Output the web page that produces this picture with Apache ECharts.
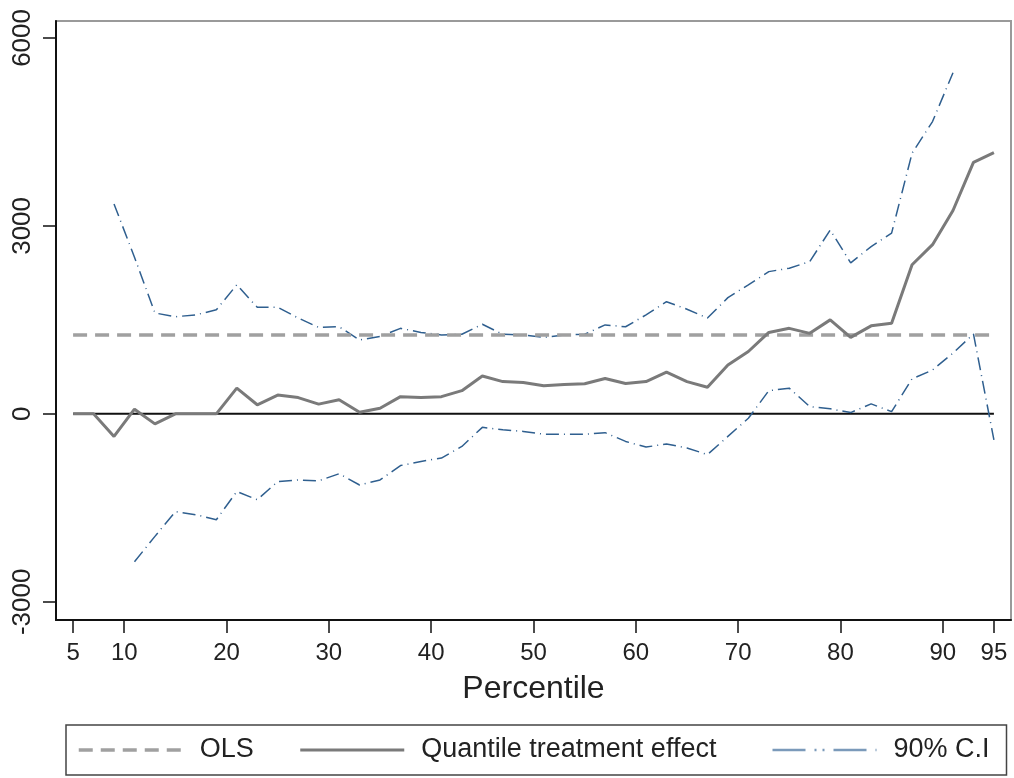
<!DOCTYPE html>
<html>
<head>
<meta charset="utf-8">
<title>Quantile treatment effect</title>
<script src="https://cdn.jsdelivr.net/npm/echarts@6/dist/echarts.min.js"></script>
<style>
  html, body { margin: 0; padding: 0; background: #fff; }
  #chart { width: 1014px; height: 778px; }
</style>
</head>
<body>
<div id="chart"></div>
<script>
// Percentiles 5, 7, ..., 95
const percentiles = [5, 7, 9, 11, 13, 15, 17, 19, 21, 23, 25, 27, 29, 31, 33, 35, 37, 39, 41, 43, 45, 47,
    49, 51, 53, 55, 57, 59, 61, 63, 65, 67, 69, 71, 73, 75, 77, 79, 81, 83, 85, 87, 89, 91, 93, 95];

const qte = [0, 0, -360, 75, -160, 0, 0, 0, 410, 145, 300, 260, 155, 225, 25, 90, 275, 260, 275, 370, 605, 515,
    500, 450, 470, 480, 565, 485, 515, 665, 515, 425, 780, 995, 1300, 1365, 1285, 1500, 1220, 1405, 1445, 2380, 2700, 3245, 4015, 4170];

const ciUpper = [null, null, 3350, 2500, 1610, 1550, 1580, 1660, 2060, 1700, 1700, 1530, 1380, 1390, 1180, 1235, 1365, 1300, 1260, 1270, 1430, 1270,
    1260, 1220, 1260, 1270, 1420, 1390, 1580, 1790, 1670, 1530, 1855, 2060, 2270, 2325, 2430, 2935, 2410, 2670, 2885, 4160, 4665, 5445, null, null];

const ciLower = [null, null, null, -2360, -1955, -1560, -1610, -1690, -1240, -1370, -1080, -1055, -1070, -955, -1135, -1055, -825, -760, -705, -520, -215, -255,
    -280, -325, -325, -325, -300, -440, -530, -480, -545, -650, -360, -70, 370, 410, 115, 80, 20, 160, 35, 560, 700, 970, 1275, -415];

const olsEffect = 1260;
const zeroLevel = 0;

const xTicks = [5, 10, 20, 30, 40, 50, 60, 70, 80, 90, 95];
const yTicks = [-3000, 0, 3000, 6000];

const legendNames = ['OLS', 'Quantile treatment effect', '90% C.I'];
const legendTextWidths = [99, 350, 97];

const pair = (vals) => percentiles.map((p, i) => [p, vals[i]]);

const chart = echarts.init(document.getElementById('chart'));
const font = "'Liberation Sans', Arial, Helvetica, sans-serif";

const styles = {
    'OLS': { color: '#a0a0a0', width: 3.5, type: [14, 8] },
    'Quantile treatment effect': { color: '#7a7a7a', width: 3, type: 'solid' },
    '90% C.I': { color: '#2f5f8f', width: 1.5, type: [13, 5, 1, 5] }
};

// legend samples are drawn a bit bolder, like the original key
const legendLine = {
    'OLS': { width: 3.5 },
    'Quantile treatment effect': { width: 3 },
    '90% C.I': { width: 2.5, color: '#7b9aba', type: [33, 9, 2, 6, 2, 9] }
};

const option = {
    backgroundColor: '#fff',
    animation: false,
    textStyle: { fontFamily: font },
    grid: {
        left: 56, right: 3, top: 21, bottom: 158,
        show: true, borderColor: '#9a9a9a', borderWidth: 2, backgroundColor: '#fff'
    },
    xAxis: {
        type: 'value',
        min: 3.33,
        max: 96.67,
        name: 'Percentile',
        nameLocation: 'middle',
        nameGap: 53,
        nameTextStyle: { fontSize: 32, color: '#222', fontFamily: font },
        axisLine: { onZero: false, lineStyle: { color: '#111', width: 2 } },
        axisTick: { show: true, length: 13, customValues: xTicks, lineStyle: { color: '#111', width: 1.5 } },
        axisLabel: { customValues: xTicks, fontSize: 24, color: '#222', margin: 21, fontFamily: font },
        splitLine: { show: false }
    },
    yAxis: {
        type: 'value',
        min: -3290,
        max: 6270,
        axisLine: { show: true, onZero: false, lineStyle: { color: '#111', width: 2 } },
        axisTick: { show: true, length: 13, customValues: yTicks, lineStyle: { color: '#111', width: 1.5 } },
        axisLabel: {
            customValues: yTicks, rotate: 90, fontSize: 26, color: '#222', margin: 20, fontFamily: font,
            formatter: function (v) { return String(v); }
        },
        splitLine: { show: false }
    },
    legend: {
        left: 66,
        top: 725,
        orient: 'horizontal',
        data: legendNames.map((n, i) => ({
            name: n,
            textStyle: { width: legendTextWidths[i] },
            lineStyle: legendLine[n]
        })),
        itemWidth: 104,
        itemHeight: 14,
        itemGap: 0,
        padding: [11, 16, 11, 11],
        borderColor: '#444',
        borderWidth: 1.5,
        selectedMode: false,
        itemStyle: { opacity: 0 },
        textStyle: { fontSize: 27, color: '#222', padding: [0, 0, 0, 12], lineHeight: 28, fontFamily: font }
    },
    series: [
        {
            name: 'zero',
            type: 'line',
            data: pair(percentiles.map(() => zeroLevel)),
            symbol: 'none',
            lineStyle: { color: '#111', width: 2 },
            z: 1
        },
        {
            name: '90% C.I',
            type: 'line',
            data: pair(ciUpper),
            symbol: 'none',
            connectNulls: false,
            lineStyle: styles['90% C.I'],
            itemStyle: { color: styles['90% C.I'].color },
            z: 2
        },
        {
            name: '90% C.I',
            type: 'line',
            data: pair(ciLower),
            symbol: 'none',
            connectNulls: false,
            lineStyle: styles['90% C.I'],
            itemStyle: { color: styles['90% C.I'].color },
            z: 2
        },
        {
            name: 'OLS',
            type: 'line',
            data: pair(percentiles.map(() => olsEffect)),
            symbol: 'none',
            lineStyle: styles['OLS'],
            itemStyle: { color: styles['OLS'].color },
            z: 3
        },
        {
            name: 'Quantile treatment effect',
            type: 'line',
            data: pair(qte),
            symbol: 'none',
            lineStyle: styles['Quantile treatment effect'],
            itemStyle: { color: styles['Quantile treatment effect'].color },
            z: 4
        }
    ]
};

chart.setOption(option);

window.addEventListener('resize', function () {
    chart.resize();
});
</script>
</body>
</html>
